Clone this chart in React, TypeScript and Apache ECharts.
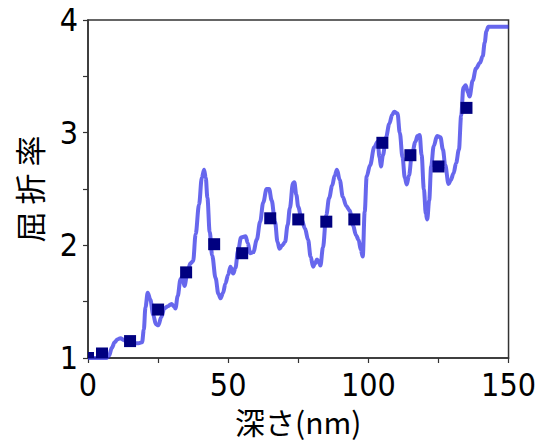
import React, { useEffect, useRef } from 'react';
import * as echarts from 'echarts';

// Depth (nm) and refractive index read along the continuous profile
const profileDepth = [
  0, 6.5, 7.5, 8.5, 9.5, 10.5, 11.6, 12.8, 14, 16, 18, 19.3, 19.9, 20.5, 21.3, 22.2, 23.3, 24.2, 25.1,
  26.1, 27.2, 28.5, 29.8, 30.6, 31.2, 32, 33, 33.6, 34.4, 35.5, 36.5, 37.5, 38.4, 39.6, 40.6, 41.4,
  42.0, 42.6, 43.4, 44.3, 45.5, 46.5, 47.3, 48.2, 49, 50, 50.8, 51.8, 52.6, 53.5, 54.6, 56.2, 57, 57.8,
  59, 60.2, 61.4, 62.5, 63.7, 64.6, 65.5, 66.7, 67.6, 68.3, 69.3, 70.3, 71.2, 72, 73.1, 73.6, 74.3, 75,
  76.2, 77.4, 78.5, 79.4, 80.3, 81, 81.7, 82.3, 82.9, 83.8, 85, 86, 87.1, 88, 88.8, 89.8, 90.9, 92.1,
  93.3, 94.5, 95.6, 96.5, 97.3, 98, 98.7, 99.4, 100.6, 102.1, 103.3, 104, 104.5, 105.2, 106.3, 107.5,
  108.5, 109.2, 110.4, 111.2, 112.2, 113, 113.7, 114.5, 115.5, 116.8, 117.5, 118.3, 119, 119.8, 120.5,
  121, 121.7, 122.4, 123.3, 124.5, 125.7, 126.6, 127.4, 128.6, 129.4, 130.4, 131.3, 132.3, 133.1,
  133.9, 134.7, 135.5, 136.1, 137.2, 138.4, 139.8, 140.8, 141.5, 142.1, 142.8, 150
];
const profileIndex = [
  1.0, 1.0, 1.02, 1.09, 1.14, 1.165, 1.175, 1.16, 1.135, 1.13, 1.13, 1.14, 1.25, 1.45, 1.58, 1.52, 1.38, 1.3, 1.29,
  1.36, 1.44, 1.46, 1.48, 1.46, 1.44, 1.55, 1.7, 1.72, 1.64, 1.76, 1.84, 1.86, 2.1, 2.36, 2.6, 2.67,
  2.6, 2.42, 2.12, 1.91, 1.71, 1.57, 1.53, 1.58, 1.66, 1.74, 1.81, 1.75, 1.8, 1.95, 2.07, 2.08, 2.02, 1.93,
  1.94, 2.05, 2.21, 2.38, 2.5, 2.5, 2.4, 2.21, 2.03, 1.97, 2.0, 2.03, 2.18, 2.33, 2.55, 2.56, 2.45, 2.34,
  2.23, 2.15, 2.05, 1.9, 1.81, 1.84, 1.875, 1.85, 1.82, 1.98, 2.27, 2.42, 2.53, 2.62, 2.67, 2.58, 2.43, 2.35,
  2.31, 2.18, 2.09, 2.05, 1.96, 1.9, 2.3, 2.61, 2.71, 2.87, 2.92, 2.78, 2.7, 2.8, 2.96, 3.08,
  3.16, 3.185, 3.17, 3.0, 2.78, 2.6, 2.54, 2.62, 2.8, 2.92, 2.97, 2.98, 2.8, 2.5, 2.28,
  2.23, 2.4, 2.7, 2.88, 2.97, 2.96, 2.85, 2.715, 2.545, 2.58, 2.64, 2.73, 2.85, 3.15,
  3.4, 3.42, 3.36, 3.32, 3.46, 3.57, 3.62, 3.68, 3.8, 3.9, 3.94, 3.94
];

// Layer-averaged values (square markers)
const layerDepth = [0, 5, 15, 25, 35, 45, 55, 65, 75, 85, 95, 105, 115, 125, 135];
const layerIndex = [1.0, 1.04, 1.15, 1.43, 1.76, 2.01, 1.93, 2.24, 2.23, 2.21, 2.23, 2.91, 2.8, 2.7, 3.22];

const xLabelValues = [0, 50, 100, 150];
const yLabelValues = [1, 2, 3, 4];

const tickFont = "'Liberation Sans Narrow', 'DejaVu Sans Condensed', sans-serif";
const cjkFont = "'Noto Sans CJK JP', sans-serif";

export default function App() {
  const ref = useRef<HTMLDivElement>(null);
  useEffect(() => {
    if (!ref.current) return;
    const chart = echarts.init(ref.current, null, { renderer: 'svg' });
    const axisColor = '#333';
    chart.setOption({
      animation: false,
      backgroundColor: '#fff',
      grid: {
        left: 88, right: 27, top: 20, bottom: 89,
        show: true, borderColor: axisColor, borderWidth: 1.5,
      },
      xAxis: {
        type: 'value', min: 0, max: 150, interval: 25,
        axisLine: { show: true, onZero: false, lineStyle: { color: axisColor, width: 1.5 } },
        axisTick: { show: true, inside: false, length: 5, lineStyle: { color: axisColor, width: 1.2 } },
        axisLabel: {
          formatter: (v: number) => (xLabelValues.includes(v) ? String(v) : ''),
          fontSize: 32, fontFamily: tickFont, color: '#000', margin: 11,
        },
        splitLine: { show: false },
        name: '深さ(nm)', nameLocation: 'middle', nameGap: 47,
        nameTextStyle: { fontSize: 30, fontFamily: cjkFont, color: '#000' },
      },
      yAxis: {
        type: 'value', min: 1, max: 4, interval: 0.5,
        axisLine: { show: true, onZero: false, lineStyle: { color: axisColor, width: 1.5 } },
        axisTick: { show: true, inside: false, length: 5, lineStyle: { color: axisColor, width: 1.2 } },
        axisLabel: {
          formatter: (v: number) => (yLabelValues.includes(v) ? String(v) : ''),
          fontSize: 32, fontFamily: tickFont, color: '#000', margin: 10,
        },
        splitLine: { show: false },
        name: '屈 折 率', nameLocation: 'middle', nameGap: 44,
        nameTextStyle: { fontSize: 31, fontFamily: cjkFont, color: '#000' },
      },
      series: [
        {
          type: 'line',
          data: profileDepth.map((d, i) => [d, profileIndex[i]]),
          smooth: 0.35,
          smoothMonotone: 'x',
          showSymbol: false,
          clip: true,
          lineStyle: { width: 4, color: 'rgba(45,45,230,0.72)' },
          z: 2,
        },
        {
          type: 'custom',
          clip: true,
          data: layerDepth.map((d, i) => [d, layerIndex[i]]),
          encode: { x: 0, y: 1 },
          renderItem: (params: any, api: any) => {
            const p = api.coord([api.value(0), api.value(1)]);
            const s = 12;
            return {
              type: 'rect',
              shape: { x: p[0] - s / 2, y: p[1] - s / 2, width: s, height: s },
              style: { fill: '#000080' },
            };
          },
          z: 3,
        },
      ],
    });
    return () => chart.dispose();
  }, []);
  return (
    <div
      ref={ref}
      style={{ position: 'fixed', left: 0, top: 0, width: 539, height: 447 }}
    />
  );
}
